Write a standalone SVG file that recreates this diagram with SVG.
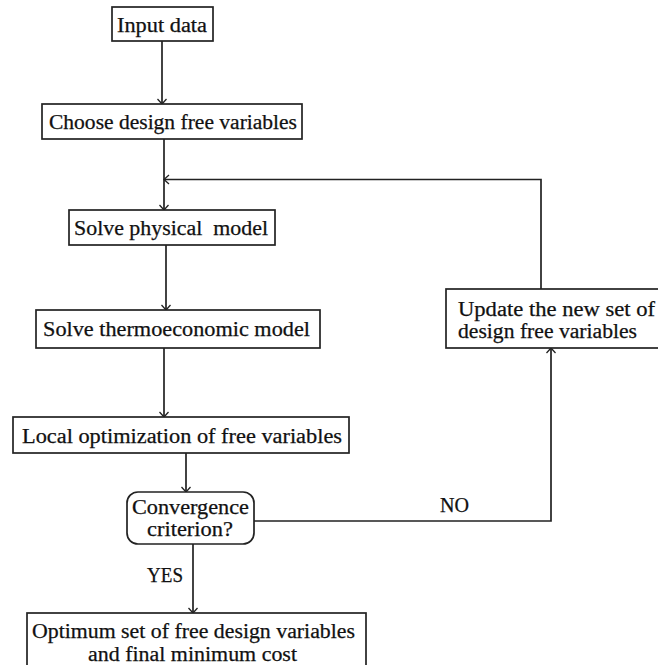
<svg xmlns="http://www.w3.org/2000/svg" width="658" height="665" viewBox="0 0 658 665">
<defs>
<style>
.box{fill:#fff;stroke:#222;stroke-width:1.7}
.ln{fill:none;stroke:#222;stroke-width:1.7}
text{font-family:"Liberation Serif","Times New Roman",serif;font-size:20px;fill:#111;stroke:#111;stroke-width:0.25}
</style>
<marker id="ah" markerUnits="userSpaceOnUse" markerWidth="14" markerHeight="14" refX="7" refY="7" orient="auto">
<path d="M2,2.5 L7,7 L2,11.5" fill="none" stroke="#222" stroke-width="1.3"/>
</marker>
</defs>
<rect width="658" height="665" fill="#fff"/>
<g id="connectors">
<line class="ln" x1="162" y1="41" x2="162" y2="104" marker-end="url(#ah)"/>
<line class="ln" x1="164" y1="139" x2="164" y2="210" marker-end="url(#ah)"/>
<line class="ln" x1="166" y1="245" x2="166" y2="310" marker-end="url(#ah)"/>
<line class="ln" x1="164" y1="348" x2="164" y2="417" marker-end="url(#ah)"/>
<line class="ln" x1="186" y1="453" x2="186" y2="492" marker-end="url(#ah)"/>
<line class="ln" x1="193" y1="544" x2="193" y2="613" marker-end="url(#ah)"/>
<polyline class="ln" points="254,521 551,521 551,348" marker-end="url(#ah)"/>
<polyline class="ln" points="541,289 541,179.5 164,179.5" marker-end="url(#ah)"/>
<text x="147" y="582" textLength="36" lengthAdjust="spacingAndGlyphs">YES</text>
<text x="440" y="512" textLength="29" lengthAdjust="spacingAndGlyphs">NO</text>
</g>
<g id="input">
<rect class="box" x="112" y="7" width="101" height="34"/>
<text x="117" y="32" textLength="90" lengthAdjust="spacingAndGlyphs">Input data</text>
</g>
<g id="choose">
<rect class="box" x="42" y="104" width="260" height="35"/>
<text x="49" y="129" textLength="248" lengthAdjust="spacingAndGlyphs">Choose design free variables</text>
</g>
<g id="physical">
<rect class="box" x="69" y="210" width="206" height="35"/>
<text x="74" y="235" textLength="194" lengthAdjust="spacingAndGlyphs" xml:space="preserve">Solve physical  model</text>
</g>
<g id="thermo">
<rect class="box" x="36" y="310" width="284" height="38"/>
<text x="43" y="336" textLength="267" lengthAdjust="spacingAndGlyphs">Solve thermoeconomic model</text>
</g>
<g id="local">
<rect class="box" x="13" y="417" width="336" height="36"/>
<text x="22" y="443" textLength="320" lengthAdjust="spacingAndGlyphs">Local optimization of free variables</text>
</g>
<g id="convergence">
<rect class="box" x="127" y="492" width="127" height="52" rx="11" ry="11"/>
<text x="132" y="514" textLength="117" lengthAdjust="spacingAndGlyphs">Convergence</text>
<text x="147" y="536" textLength="86" lengthAdjust="spacingAndGlyphs">criterion?</text>
</g>
<g id="update">
<rect class="box" x="446" y="289" width="214" height="59"/>
<text x="458" y="316" textLength="197" lengthAdjust="spacingAndGlyphs">Update the new set of</text>
<text x="458" y="338" textLength="179" lengthAdjust="spacingAndGlyphs">design free variables</text>
</g>
<g id="optimum">
<rect class="box" x="27" y="613" width="339" height="60"/>
<text x="32" y="638" textLength="323" lengthAdjust="spacingAndGlyphs">Optimum set of free design variables</text>
<text x="88" y="661" textLength="209" lengthAdjust="spacingAndGlyphs">and final minimum cost</text>
</g>
</svg>
